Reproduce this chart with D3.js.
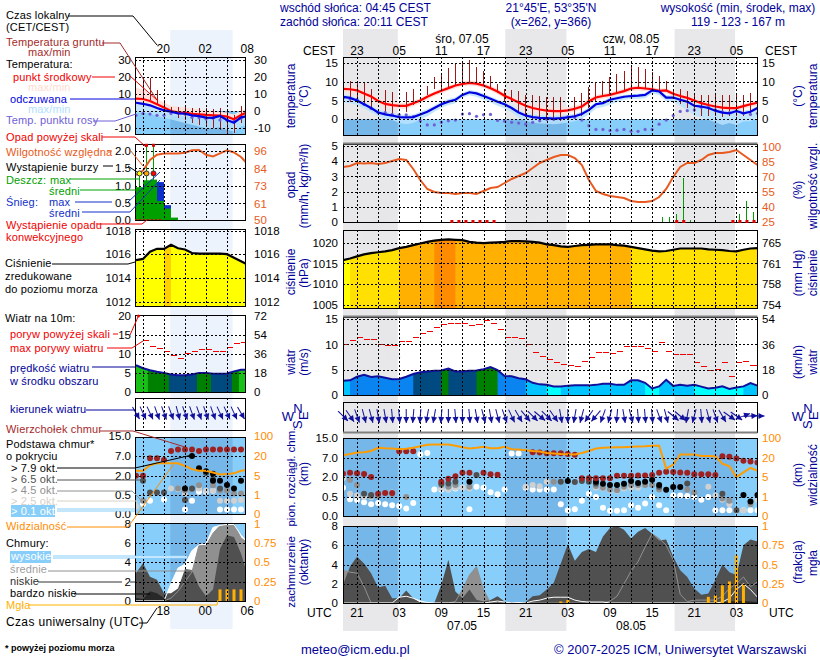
<!DOCTYPE html>
<html>
<head>
<meta charset="utf-8">
<script src="https://cdn.jsdelivr.net/npm/d3@7"></script>
<style>
  html, body { margin: 0; padding: 0; background: #fff; }
  svg { display: block; }
  text { font-family: "Liberation Sans", Arial, sans-serif; font-size: 12px; }
</style>
</head>
<body>
<svg></svg>
<script>
// hours are counted from 06.05 00 UTC
const mainHours = d3.range(19, 79);
const leftHours = d3.range(14, 31);

const mainTemp = [
  8.1,8.0,7.7,6.9,6.1,4.9,4.1,3.8,3.6,3.6,
  4.3,5.0,6.0,6.9,7.6,8.3,9.0,9.4,9.7,9.5,
  9.0,8.3,7.4,6.3,5.4,4.5,3.6,3.0,2.6,2.3,
  2.2,2.2,2.4,2.8,3.4,4.8,5.8,6.2,6.5,7.0,
  7.5,8.2,8.4,8.2,8.0,7.6,7.7,6.8,6.2,5.7,
  5.0,4.3,3.8,3.4,3.1,3.0,3.0,3.5,4.0,4.4];
const mainTempHi = [
  9.0,8.9,8.5,7.6,6.8,5.6,4.9,4.6,4.4,4.4,
  5.0,5.7,6.6,7.5,8.2,8.9,9.6,10.1,10.4,10.2,
  9.7,9.0,8.1,7.0,6.1,5.2,4.4,3.8,3.4,3.1,
  3.0,3.0,3.2,3.6,4.2,5.5,6.5,6.9,7.2,7.7,
  8.2,8.8,9.0,8.8,8.6,8.2,8.3,7.4,6.8,6.3,
  5.6,5.0,4.5,4.1,3.8,3.7,3.7,4.1,4.6,5.0];
const mainTempLo = [
  7.2,7.1,6.8,6.0,5.2,4.1,3.3,3.0,2.8,2.8,
  3.5,4.2,5.2,6.2,6.9,7.6,8.3,8.8,9.0,8.8,
  8.3,7.6,6.7,5.6,4.7,3.8,2.8,2.2,1.8,1.5,
  1.4,1.4,1.6,2.0,2.6,4.0,5.0,5.5,5.8,6.3,
  6.8,7.5,7.7,7.5,7.3,6.9,7.0,6.1,5.4,4.9,
  4.2,3.5,3.0,2.6,2.3,2.2,2.2,2.7,3.2,3.6];
const mainFeel = [
  6.0,5.7,5.0,4.0,3.0,1.8,1.3,1.0,0.6,0.5,
  0.6,1.3,2.0,3.0,4.0,4.7,5.2,6.5,7.2,6.9,
  6.2,5.5,4.7,4.0,3.0,1.8,1.0,0.6,0.4,0.3,
  0.2,0.3,0.5,0.8,1.4,2.5,4.0,4.3,5.2,5.6,
  6.0,6.2,6.3,6.5,7.7,7.4,5.8,5.8,5.2,4.7,
  3.6,3.4,3.0,2.3,1.8,1.6,2.2,1.6,2.0,3.0];
const mainFeelHi = [
  6.6,6.3,5.6,4.6,3.7,2.5,2.0,1.7,1.3,1.2,
  1.3,2.0,2.7,3.7,4.7,5.4,5.9,7.0,7.8,7.5,
  6.8,6.1,5.3,4.6,3.6,2.4,1.7,1.3,1.1,1.0,
  0.9,1.0,1.2,1.5,2.1,3.2,4.6,5.0,5.8,6.2,
  6.5,6.7,6.8,7.0,8.1,7.9,6.4,6.4,5.8,5.3,
  4.3,4.1,3.7,3.0,2.5,2.3,2.9,2.3,2.7,3.6];
const mainFeelLo = [
  4.5,4.3,3.8,2.9,1.9,0.8,0.1,-0.2,-1.0,-1.3,
  -1.0,-0.1,0.8,2.0,3.0,3.8,4.3,5.8,6.4,6.0,
  5.2,4.5,3.6,2.9,1.9,0.5,-0.4,-0.9,-1.1,-1.2,
  -1.3,-1.1,-0.9,-0.5,0.2,1.3,2.9,3.3,3.9,4.6,
  5.2,5.4,5.5,5.6,6.9,6.5,4.8,4.8,3.6,2.4,
  1.0,0.5,-0.1,-0.8,-1.5,-1.0,-1.5,-0.6,-0.5,0.5];
const mainDew = [
  5.6,5.4,5.3,4.0,2.9,1.8,1.8,1.3,1.2,1.2,
  0.7,-0.4,-1.5,-1.5,-0.8,-0.4,-0.2,1.4,1.5,0.8,
  1.2,1.3,-0.3,-0.5,-0.8,-1.0,-1.3,-0.8,-0.4,0.0,
  0.0,0.2,0.7,0.5,-0.2,-1.7,-2.7,-2.7,-3.0,-2.9,
  -2.7,-3.2,-3.2,-2.7,-2.7,-1.3,-0.2,1.0,2.1,2.3,
  2.5,3.2,3.2,2.5,2.0,1.8,2.2,1.6,1.3,1.6];
const mainGroundHi = [
  null,10.3,10.3,9.6,8.0,null,7.7,7.2,null,7.2,
  8.0,null,8.8,11.3,12.0,13.8,15.0,15.0,15.7,14.0,
  13.0,11.5,9.5,8.0,7.7,7.5,6.5,6.5,6.3,6.0,
  6.0,6.0,null,6.0,7.0,8.5,10.0,10.3,11.2,12.2,
  12.8,14.2,14.0,13.3,12.5,11.6,10.3,8.0,8.0,7.5,
  6.7,6.5,6.5,6.5,6.5,6.5,6.5,6.5,7.0,null];
const mainGroundLo = [
  null,4.6,5.0,4.0,3.0,null,1.8,1.0,null,2.0,
  3.7,null,6.5,8.0,8.0,8.5,9.0,10.0,10.0,9.5,
  9.0,8.0,7.0,5.0,4.5,2.0,0.5,0.0,-0.3,-0.5,
  -0.5,-0.5,null,0.0,1.0,3.0,5.0,6.0,6.5,7.0,
  7.5,8.0,8.4,8.0,8.0,7.6,7.5,6.0,4.0,3.0,
  2.0,1.0,1.0,1.0,0.5,1.0,1.0,1.0,1.5,null];
const mainHumidity = [
  80,81,84,83.5,84,83,84,86,88,87,
  78,67,58,55,54,54,53,54,54,53,
  56,59,60,64,68,71,74,79,84,87,
  90,92,92,89,82,67,56,53,51,50,
  49,46,45,45,46,50,58,70,80,84,
  84,87,92,94,94,95,97,92,87,82];
const mainRainHours = [64, 65, 66, 67, 68, 75, 76, 77];
const mainRain = [0.3, 0.3, 0.5, 2.9, 0.1, 0.55, 1.4, 0.65];
const mainConvective = [34, 35, 36, 37, 38, 39, 40, 66, 67, 74, 75, 76, 77];
const mainPressure = [
  1015.8,1016.2,1016.7,1017.2,1017.5,1017.7,1017.9,1018.2,1018.7,1019,
  1019.4,1019.8,1020.2,1020.5,1020.7,1020.8,1020.7,1020.6,1020.2,1020,
  1019.9,1020,1020.1,1020.2,1020.4,1020.4,1020.3,1020.2,1020,1019.6,
  1019.4,1019.1,1019,1019.2,1019.4,1019.5,1019.6,1019.6,1019.6,1019.4,
  1019.3,1019,1018.7,1018.4,1018.1,1017.9,1018,1018.3,1018.6,1018.6,
  1018.6,1018.6,1018.4,1018.3,1018.2,1018,1017.9,1018.3,1018.6,1018.7];
const mainWind = [
  2.8,2.9,3.6,4.0,3.55,3.7,3.4,3.1,3.15,3.6,
  4.15,4.5,4.65,4.8,4.85,5.2,4.65,4.65,4.8,4.85,
  5.1,5.5,4.9,3.75,3.7,3.3,3.1,2.4,2.1,2.0,
  1.7,1.7,1.85,1.9,1.9,1.9,2.0,2.2,2.2,2.0,
  2.0,2.9,2.9,2.4,1.3,1.7,3.0,1.8,2.0,1.85,
  2.0,1.65,1.3,1.45,1.7,1.2,1.5,1.7,2.35,1.85];
const mainGust = [
  9.9,10.8,11.4,11.0,11.0,9.9,9.8,9.8,10.5,10.5,
  11.3,12.2,12.6,13.4,14.0,14.2,14.2,14.2,13.8,14.0,
  14.7,14.2,13.0,11.4,11.4,11.1,10.0,8.4,7.6,7.1,
  6.4,6.0,5.8,5.6,6.7,7.4,8.3,8.4,8.2,8.6,
  9.5,9.6,9.6,9.2,8.6,10.4,8.6,7.9,7.9,7.9,
  6.4,5.7,4.9,5.1,6.4,3.7,6.4,6.7,5.9,null];
const mainWindDir = [
  315,325,340,345,345,350,350,355,355,0,
  5,5,10,10,5,0,355,0,355,350,
  345,350,345,340,335,330,320,315,310,315,
  325,350,0,10,15,35,40,20,15,5,
  350,345,355,355,355,340,345,310,310,10,
  15,355,345,340,330,305,305,250,265,270];
const mainVisibility = [
  31,36,42,43,48,61,59,58,55,57,
  61,67,73,74,74,74,69,63,58,61,
  65,59,59,65,55,54,51,48,46,40,
  38,36,35,34,40,48,58,61,62,63,
  63,65,66,67,69,69,11.7,14.8,34,34,
  34,28,28,27,15.6,13.5,5,8.6,12.2,9.9];
const mainCloudLow = [
  1.9,3.8,4.8,4.1,3.1,1.6,1.8,0.5,0.5,1.3,
  0.5,0.05,0,0,1.9,4.5,1.2,0.5,1.4,0.35,
  0.15,0.3,0.7,0.15,0,0,0.1,0.7,0.8,1.4,
  2.1,4.1,6.1,4.4,5.3,5.6,5.3,6.9,7.8,8,
  7.6,6.7,7.4,7.8,7.2,6.5,6.6,4.8,3.4,2.7,
  1.5,0.85,1,2.4,4,3.2,2.9,6,6.6,6.4];
const mainCloudMid = [
  3.4,3.2,3.1,1.7,0,0,0,0,0,0,
  0,0,0,0,0,0,0.15,1.4,2.9,3.8,
  1.4,0,0,0,0,0,0,0,0,0,
  0,0,0,0,0,0,0,0,0.2,0.7,
  2,3.3,4.3,5.8,7.2,6.7,6,4.5,0.9,0.15,
  0.3,0.3,0.3,0.3,0.7,1.5,2,2.7,1.7,2.2];
const mainCloudHigh = [
  0,0,0,0,0,0,0,0,0.6,0.7,
  0.5,0.2,0.05,0,0,0,0,0,0,0,
  0,0.1,0.2,0.1,0,0.05,0,0.2,0.3,0.5,
  0.6,0.6,0.6,0.3,0.15,0.1,0.1,0.1,0,0,
  0,0,0,0,0,0,0,0,0,0,
  0,0,0,0,0.1,0.5,1.4,2,1.4,0.6];
const mainCloudVeryLow = [
  0,0,0,0,0,0,0,0,0,0,
  0,0,0,0,0,0,0,0,0,0,
  0,0,0,0,0,0,0,0,0,0,
  0,0,0,0,0,0,0,0,0,0,
  0,0,0,0,0,0,0,0,0,0,
  0,0,0,0.1,0.1,0.15,0.2,0.2,0.15,0.1];
const mainFogHours = [50, 51, 71, 72, 73, 74, 75, 76];
const mainFog = [0.02, 0.04, 0.08, 0.1, 0.23, 0.28, 0.62, 0.25];

const mainBaseTop = [
  [19,2.85],[20,3.1],[21,3.0],[22,2.8],[23,2],[24,0.75],[25,0.8],[26,0.8],[27,9.7],[28,9.7],[29,9.7],
  [33,1.65],[34,1.87],[35,2.2],[36,3.1],[37,3.1],[39,3.1],[40,2.7],[41,2.6],
  [46,9.3],[47,9.2],[48,8.9],[49,8.9],[50,8.9],[51,8.6],[52,8.3],
  [53,1.9],[54,1.9],[55,1.9],[56,1.9],[57,1.9],[58,2.35],[59,2.35],[60,2.35],[61,2.4],[62,2.4],[63,2.5],
  [64,3.1],[65,3.4],[66,3.3],[67,3.2],[68,3.1],[69,2.7],[70,2.7],[71,2.7],[72,2.5],
  [73,7.7],[74,7.5],[75,6.9],[76,6.3],[77,6.05],[78,5.8]];
const mainBase79 = [
  [37,1.65],[51,1.7],[55,1.65],[56,1.5],[57,1.4],[58,1.4],[59,1.5],[60,1.7],[61,1.55],[62,1.65],[63,1.8],
  [64,1.4],[65,1.05],[66,1.25],[67,1.25],[76,0.65],[77,0.38],[78,0.65]];
const mainBase65 = [
  [22,0.75],[23,0.65],[33,1.5],[34,1.52],[35,1.65],[38,2.5],[50,1.65],[52,1.62],[53,1.7],[54,1.65],[55,1.52],
  [64,1.26],[68,1.52],[73,0.75],[75,0.15]];
const mainBase45 = [
  [20,1.77],[21,1.4],[23,0.57],[24,0.57],[26,0.75],[28,0.5],[33,1.4],[34,1.26],[35,1.4],[37,1.26],
  [49,1.65],[55,1.33],[56,1.2],[57,1.06],[58,1],[59,1.26],[60,1.4],[61,1.4],[62,1.4],[63,1.4],[64,1.06],
  [68,1.06],[69,0.83],[73,0.46],[74,0.4],[77,0.31]];
const mainBase25 = [
  [19,1.9],[20,0.75],[21,0.62],[22,0.5],[23,0.5],[24,0.62],[26,0.83],[28,0.5],[33,1.14],[34,1.06],[35,1.2],[36,1.2],[37,1.14],
  [45,1.26],[46,1.4],[47,1.3],[48,1.65],[55,1.2],[56,1.14],[57,1],[58,0.95],[59,1.14],[60,1.2],[61,1.2],[71,1.26],[72,0.62],[73,0.43],
  [74,0.31],[75,0.15],[76,0.15],[78,0.42]];
const mainBase01 = [
  [19,1.2],[20,0.44],[21,0.42],[22,0.36],[23,0.31],[24,0.34],[25,0.31],[26,0.28],[27,0.26],[28,0.2],[29,0.34],
  [30,8.5],[31,9],[32,1.06],[33,1.06],[34,1.06],[35,1.14],[36,1.2],[37,0.18],[38,1.26],[39,1.19],[40,0.86],[41,0.7],[42,1.06],
  [43,8.8],[44,8.8],[45,1.19],[46,1.06],[47,1.06],[48,1.06],[49,1.06],[50,0.31],[51,0.15],[52,0.18],[53,0.4],[54,0.75],[55,0.5],
  [56,0.22],[57,0.14],[58,0.14],[59,0.15],[60,0.28],[61,0.22],[62,0.33],[63,0.5],[64,0.28],[65,0.15],[66,0.62],[67,0.62],[68,0.57],
  [69,0.5],[70,0.43],[71,0.5],[72,0.15],[73,0.15],[74,0.15],[75,0.15],[76,0.15],[77,0.15],[78,0.15]];

const leftTemp = [7.2,7.0,5.8,4.0,2.1,0.0,-0.8,-1.0,-1.7,-2.0,-2.3,-2.5,-2.7,-3.3,-4.8,-2.3,-0.6];
const leftTempHi = [13.5,12.5,9.5,7,5,3,2.5,2,1.5,1,0.5,0,-0.5,-1,-2,0,2];
const leftTempLo = [3,2.5,2,1,-1,-2,-3,-3,-3.5,-4,-4.5,-4.5,-4.5,-5,-7,-4,-2];
const leftFeel = [4.8,4.2,3.3,1.7,0.4,-0.4,-1.4,-1.5,-2.5,-3.0,-3.9,-4.0,-2.9,-5.2,-6.8,-3.7,-2.9];
const leftFeelHi = [5.5,5,4,2.4,1,0.3,-0.7,-0.8,-1.8,-2.3,-3.2,-3.3,-2.2,-4.5,-6,-3,-2.2];
const leftFeelLo = [-1,-1,-1.5,-3,-4,-5,-6,-7,-8,-9,-10,-10,-9.5,-11,-12,-9,-8];
const leftDew = [-2.5,-1.4,-1.8,-2.5,-2.5,-1.4,-1,-1.8,-3.7,-3.9,-4.6,-4.2,-5.2,-5.6,-5.2,-4.2,null];
const leftGroundHi = [null,19.5,19,12.2,6.4,2.5,2.1,2.1,1.5,1.5,1.5,1.2,1.5,0.6,-2.3,2.9,null];
const leftGroundLo = [null,6.4,6.4,3.5,-0.4,-2.3,-4.3,-5.2,-7.2,-8.1,-9.1,-10,-11,-13,-13,-7.2,null];
const leftHumidity = [80,83,90,93.5,94.4,94.4,94.4,94.8,96.5,96.7,93.5,92.4,94.4,96.4,95,92,87];
const leftRainHours = [14, 15, 16, 17, 18, 19];
const leftRain = [0.95, 1.15, 1.17, 0.55, 0.33, 0.07];
const leftSnow = [0, 0, 0, 1.1, 0.43, 0];
const leftRainMax = [1.35, 2.18, 2.18];
const leftStormColors = ["#ffff00", "#ffa500", "#ff0000"];
const leftPressure = [1015.5,1015.6,1016.2,1016.45,1016.45,1016.8,1016.5,1016.4,1016.1,1016.05,1016.05,1016.05,1016.05,1016,1015.7,1015.4,1015.1];
const leftWind = [7,6.2,5.7,5.3,5,4.6,4.4,4.4,4.6,5,5,4.8,4.8,4.85,5.4,5.8,5.8];
const leftGust = [null,13.5,11.8,11.5,10.6,9.6,8.8,10,10.6,11,11,10.6,10.6,11.7,12.7,13,null];
const leftWindDir = [330,335,335,340,340,340,345,340,340,340,340,340,335,335,335,330,330];
const leftVisibility = [8.8,8.8,13,14.4,14.4,14.4,14.4,12.4,10,8.8,8.8,7.5,6,6.2,6.8,8.8,9.3];
const leftCloudLow = [2.9,3.9,2.5,2.2,0.8,0.8,1.3,3.3,3.2,1.5,0.5,1.2,5.4,6.8,6.6,4.9,2.5];
const leftCloudMid = [0,0,0,0,0,0.3,1,2,3,5.8,5.7,7,7.8,7.9,8,6.5,6];
const leftCloudHigh = [0,0,0,0,0,1.8,3.4,3.8,5.2,5.8,5.9,7.6,7.8,7.9,7.9,6.8,6];
const leftCloudVeryLow = [0.3,0.2,1,0.8,0.3,0,0,0,0,0,0,0,0,0,0,0,0];
const leftFogHours = [26, 27, 28, 29];
const leftFog = [0.15, 0.15, 0.15, 0.15];

const leftBaseTop = [[14,2],[15,2],[16,6.4],[17,6.4],[18,6],[19,9],[20,9.6],[21,9.6],[22,9.6],[23,9],[24,9.6],[25,9.6],[26,9.6],[27,9.6],[28,9.6],[29,9.6],[30,9.6]];
const leftBase79 = [[21,1],[22,7],[23,3.9],[24,3.1],[25,2.5],[25,1.6],[26,1.6],[27,1.27],[28,1],[29,1.6]];
const leftBase65 = [[15,1.6],[16,0.7],[17,0.7],[18,0.7],[22,1],[21,0.37],[24,2.7],[25,1.7],[26,1]];
const leftBase45 = [[15,0.35],[20,1],[21,0.85],[22,0.95],[23,1.25],[25,1.25],[26,0.85],[27,0.85],[28,0.62],[29,0.62],[30,1.6]];
const leftBase25 = [[14,0.2],[19,1],[20,0.95],[21,0.62],[23,1],[24,0.83],[25,0.83],[26,0.35],[27,0.35],[28,0.35],[29,0.37]];
const leftBase01 = [[15,0.26],[16,0.35],[18,0.38],[21,0.12],[22,0.35],[23,0.75],[24,0.75],[25,0.83],[26,0.12],[27,0.12],[28,0.12],[29,0.12]];

const mainNight = [[19, 26.8], [42.1, 50.8], [66.2, 74.8]];
const leftNight = [[18.9, 27.8]];

const cestHours = [21, 27, 33, 39, 45, 51, 57, 63, 69, 75];
const cestLabels = ["23", "05", "11", "17", "23", "05", "11", "17", "23", "05"];
const utcLabels = ["21", "03", "09", "15", "21", "03", "09", "15", "21", "03"];

const width = 820;
const height = 660;
const navy = "#000099";
const orange = "#ff8c00";
const rhColor = "#e85a20";
const sky = "#87cefa";
const dewColor = "#7060d8";

const svg = d3.select("svg").attr("width", width).attr("height", height);

const mainView = {
  x: d3.scaleLinear().domain([19, 78]).range([343, 757.5]),
  left: 343, right: 757.5, hours: mainHours,
  night: mainNight, nightTop: 29, nightBottom: 631, nightFill: "#e6e6e8",
  grid: d3.range(21, 78, 3), tickLeft: 338, tickRight: 762
};
const leftView = {
  x: d3.scaleLinear().domain([15, 27]).range([143, 227]),
  left: 135, right: 245, hours: leftHours,
  night: leftNight, nightTop: 30, nightBottom: 629, nightFill: "#eaf2fd",
  grid: d3.range(15, 28, 3), tickLeft: 131, tickRight: 254
};

// faint strokes of the background logo
["M398,206 Q366,216 366,262 L394,360", "M506,140 Q556,166 526,228"].forEach(d => {
  svg.append("path").attr("d", d).attr("fill", "none").attr("stroke", "#efefef").attr("stroke-width", 14);
});

// night bands sit behind everything
[mainView, leftView].forEach(v => {
  svg.append("g").selectAll("rect")
    .data(v.night)
    .join("rect")
    .attr("x", d => v.x(d[0]))
    .attr("width", d => v.x(d[1]) - v.x(d[0]))
    .attr("y", v.nightTop)
    .attr("height", v.nightBottom - v.nightTop)
    .attr("fill", v.nightFill)
    .attr("fill-opacity", 0.92);
});

let clipCount = 0;
function makePanel(view, top, bottom) {
  const id = "clip" + clipCount++;
  svg.append("clipPath").attr("id", id)
    .append("rect")
    .attr("x", view.left).attr("y", top)
    .attr("width", view.right - view.left).attr("height", bottom - top);
  const g = svg.append("g").attr("clip-path", `url(#${id})`);
  return { g, view, top, bottom };
}

function skyFill(p, y0) {
  p.g.append("rect")
    .attr("x", p.view.left).attr("y", y0)
    .attr("width", p.view.right - p.view.left).attr("height", p.bottom - y0)
    .attr("fill", sky);
  p.g.append("g").selectAll("rect")
    .data(p.view.night)
    .join("rect")
    .attr("x", d => p.view.x(d[0]))
    .attr("width", d => p.view.x(d[1]) - p.view.x(d[0]))
    .attr("y", y0).attr("height", p.bottom - y0)
    .attr("fill", "#dfe3ee")
    .style("mix-blend-mode", "multiply");
}

function finishPanel(p, gridY) {
  const grid = svg.append("g")
    .attr("stroke", "#000").attr("stroke-dasharray", "2,2").attr("shape-rendering", "crispEdges");
  grid.selectAll("line.v").data(p.view.grid).join("line").classed("v", true)
    .attr("x1", d => Math.round(p.view.x(d)) + 0.5).attr("x2", d => Math.round(p.view.x(d)) + 0.5)
    .attr("y1", p.top).attr("y2", p.bottom);
  grid.selectAll("line.h").data(gridY).join("line").classed("h", true)
    .attr("x1", p.view.left).attr("x2", p.view.right)
    .attr("y1", d => Math.round(d) + 0.5).attr("y2", d => Math.round(d) + 0.5);
  svg.append("rect")
    .attr("x", p.view.left).attr("y", p.top)
    .attr("width", p.view.right - p.view.left).attr("height", p.bottom - p.top)
    .attr("fill", "none").attr("stroke", "#000").attr("stroke-width", 1).attr("shape-rendering", "crispEdges");
}

function ticks(side, view, scale, values, labels, color) {
  const axis = side === "left" ? d3.axisLeft(scale) : d3.axisRight(scale);
  const g = svg.append("g")
    .attr("transform", `translate(${side === "left" ? view.tickLeft : view.tickRight},0)`)
    .call(axis.tickValues(values).tickSize(0).tickPadding(0).tickFormat((d, i) => labels[i]));
  g.select(".domain").remove();
  g.selectAll("text").attr("fill", color || "#000").style("font-size", "11.5px");
}

const lineOf = (view, y, values) =>
  d3.line()
    .defined(d => d != null)
    .x((d, i) => view.x(view.hours[i]))
    .y(d => y(d))(values);

const bandOf = (view, y, hi, lo) =>
  d3.area()
    .x((d, i) => view.x(view.hours[i]))
    .y0((d, i) => y(lo[i]))
    .y1(d => y(d))(hi);

// temperature
function drawTemp(p, y, s) {
  skyFill(p, y(0));
  p.g.append("path").attr("d", bandOf(p.view, y, s.tempHi, s.tempLo)).attr("fill", "#ffe0da");
  p.g.append("path").attr("d", bandOf(p.view, y, s.feelHi, s.feelLo)).attr("fill", "#b8e2fb").attr("fill-opacity", 0.85);
  p.g.append("g").attr("shape-rendering", "crispEdges").selectAll("line")
    .data(p.view.hours.map((h, i) => [h, s.groundHi[i], s.groundLo[i]]).filter(d => d[1] != null))
    .join("line")
    .attr("x1", d => p.view.x(d[0])).attr("x2", d => p.view.x(d[0]))
    .attr("y1", d => y(d[1])).attr("y2", d => y(d[2]))
    .attr("stroke", "#a01818").attr("stroke-width", 1);
  p.g.append("g").selectAll("circle")
    .data(p.view.hours.map((h, i) => [h, s.dew[i]]).filter(d => d[1] != null))
    .join("circle")
    .attr("cx", d => p.view.x(d[0])).attr("cy", d => y(d[1])).attr("r", 1.6)
    .attr("fill", dewColor);
  p.g.append("path").attr("d", lineOf(p.view, y, s.temp)).attr("fill", "none").attr("stroke", "#ff0000").attr("stroke-width", 2.2);
  p.g.append("path").attr("d", lineOf(p.view, y, s.feel)).attr("fill", "none").attr("stroke", "#0000e0").attr("stroke-width", 2.2);
}

// coloured columns under a curve, start says where a column begins relative to its hour
function columns(p, y, values, colour, start) {
  const id = "clip" + clipCount++;
  const area = d3.area()
    .x((d, i) => p.view.x(p.view.hours[i]))
    .y0(p.bottom).y1(d => y(d))(values);
  svg.append("clipPath").attr("id", id).append("path").attr("d", area);
  p.g.append("g").attr("clip-path", `url(#${id})`)
    .selectAll("rect").data(values).join("rect")
    .attr("x", (d, i) => p.view.x(p.view.hours[i] + start))
    .attr("width", 8).attr("y", p.top).attr("height", p.bottom - p.top)
    .attr("fill", d => colour(d));
}

function drawPressure(p, y, values, colour) {
  columns(p, y, values, colour, -1);
  p.g.append("path").attr("d", lineOf(p.view, y, values)).attr("fill", "none").attr("stroke", "#000").attr("stroke-width", 2.2);
}

// wind speed columns and gust dashes
function drawWind(p, y, speed, gust, colour, start) {
  columns(p, y, speed, colour, start);
  p.g.append("path").attr("d", lineOf(p.view, y, speed)).attr("fill", "none").attr("stroke", "#10109c").attr("stroke-width", 2);
  p.g.append("g").attr("shape-rendering", "crispEdges").selectAll("line")
    .data(p.view.hours.map((h, i) => [h, gust[i]]).filter(d => d[1] != null))
    .join("line")
    .attr("x1", d => p.view.x(d[0])).attr("x2", d => p.view.x(d[0] + 1) - 1)
    .attr("y1", d => y(d[1])).attr("y2", d => y(d[1]))
    .attr("stroke", "#f00000").attr("stroke-width", 1);
}

// wind arrows centred on their hour, tail pointing where the wind comes from
function drawArrows(view, midY, dirs) {
  const g = svg.append("g").attr("stroke", "#10109c").attr("fill", "#10109c");
  dirs.forEach((deg, i) => {
    if (view.x(view.hours[i]) > view.right + 2) return;
    const a = g.append("g")
      .attr("transform", `translate(${view.x(view.hours[i])},${midY}) rotate(${deg})`);
    a.append("line").attr("y1", -7).attr("y2", 7).attr("stroke-width", 1);
    a.append("path").attr("d", "M0,7L-3,1L3,1Z").attr("stroke", "none");
  });
}

// cloud base dots, lowest cover first so the denser ones stay on top
function drawBase(p, y, layers, vis, visY) {
  skyFill(p, p.top);
  layers.forEach(l => {
    p.g.append("g").selectAll("circle").data(l.data).join("circle")
      .attr("cx", d => p.view.x(d[0])).attr("cy", d => y(d[1])).attr("r", 3)
      .attr("fill", l.color);
  });
  p.g.append("path").attr("d", lineOf(p.view, visY, vis)).attr("fill", "none").attr("stroke", "#ff9c00").attr("stroke-width", 2);
}

// cloud cover areas, thin lines for the upper layers drawn over them
function drawClouds(p, y, fogY, s) {
  skyFill(p, p.top);
  const area = v => d3.area()
    .x((d, i) => p.view.x(p.view.hours[i]))
    .y0(p.bottom).y1(d => y(d))(v);
  p.g.append("path").attr("d", area(s.high)).attr("fill", "#fff");
  p.g.append("path").attr("d", area(s.mid)).attr("fill", "#909090");
  p.g.append("path").attr("d", area(s.low)).attr("fill", "#505050");
  p.g.append("path").attr("d", area(s.veryLow)).attr("fill", "#282828");
  p.g.append("path").attr("d", lineOf(p.view, y, s.mid)).attr("fill", "none").attr("stroke", "#909090").attr("stroke-width", 1);
  p.g.append("path").attr("d", lineOf(p.view, y, s.high)).attr("fill", "none").attr("stroke", "#fff").attr("stroke-width", 1);
  p.g.append("g").selectAll("rect").data(s.fog).join("rect")
    .attr("x", (d, i) => p.view.x(s.fogHours[i]) - 1.5).attr("width", 3)
    .attr("y", d => fogY(d)).attr("height", d => p.bottom - fogY(d))
    .attr("fill", "#ffb000");
}

const windColour = d3.scaleThreshold()
  .domain([1.8, 3.05, 4.2, 4.88, 5.75])
  .range(["#00ffff", "#00c4ff", "#0a84f0", "#004a80", "#008000", "#18c018"]);

// ---- temperature
const yTempMain = d3.scaleLinear().domain([0, 15]).range([119.3, 63]);
const yTempLeft = d3.scaleLinear().domain([0, 30]).range([111, 59.5]);
const tempMainPanel = makePanel(mainView, 57, 135);
drawTemp(tempMainPanel, yTempMain, {
  temp: mainTemp, tempHi: mainTempHi, tempLo: mainTempLo, feel: mainFeel, feelHi: mainFeelHi,
  feelLo: mainFeelLo, dew: mainDew, groundHi: mainGroundHi, groundLo: mainGroundLo
});
const tempLeftPanel = makePanel(leftView, 57, 134);
drawTemp(tempLeftPanel, yTempLeft, {
  temp: leftTemp, tempHi: leftTempHi, tempLo: leftTempLo, feel: leftFeel, feelHi: leftFeelHi,
  feelLo: leftFeelLo, dew: leftDew, groundHi: leftGroundHi, groundLo: leftGroundLo
});
finishPanel(tempMainPanel, [15, 10, 5, 0].map(yTempMain));
finishPanel(tempLeftPanel, [30, 20, 10, 0, -10].map(yTempLeft));
ticks("left", mainView, yTempMain, [0, 5, 10, 15], ["0", "5", "10", "15"]);
ticks("right", mainView, yTempMain, [0, 5, 10, 15], ["0", "5", "10", "15"]);
ticks("left", leftView, yTempLeft, [-10, 0, 10, 20, 30], ["-10", "0", "10", "20", "30"]);
ticks("right", leftView, yTempLeft, [-10, 0, 10, 20, 30], ["-10", "0", "10", "20", "30"]);

// ---- precipitation and humidity
const yRainMain = d3.scaleLinear().domain([0, 5]).range([222, 146]);
const yRhMain = d3.scaleLinear().domain([25, 100]).range([222, 147]);
const yRainLeft = d3.scaleLinear().domain([0, 2]).range([220, 151]);
const yRhLeft = d3.scaleLinear().domain([50, 96]).range([220, 151]);

const rainMainPanel = makePanel(mainView, 144, 222);
rainMainPanel.g.append("g").attr("shape-rendering", "crispEdges").selectAll("line").data(mainRain).join("line")
  .attr("x1", (d, i) => mainView.x(mainRainHours[i] + 0.5)).attr("x2", (d, i) => mainView.x(mainRainHours[i] + 0.5))
  .attr("y1", yRainMain(0)).attr("y2", d => yRainMain(d))
  .attr("stroke", "#00a000").attr("stroke-width", 1);
rainMainPanel.g.append("path").attr("d", lineOf(mainView, yRhMain, mainHumidity))
  .attr("fill", "none").attr("stroke", rhColor).attr("stroke-width", 2);
finishPanel(rainMainPanel, [5, 4, 3, 2, 1].map(yRainMain));
svg.append("g").selectAll("rect").data(mainConvective).join("rect")
  .attr("x", d => mainView.x(d + 0.5) - 1.5).attr("y", 220).attr("width", 3).attr("height", 3)
  .attr("fill", "#e00000");
ticks("left", mainView, yRainMain, [0, 1, 2, 3, 4, 5], ["0", "1", "2", "3", "4", "5"]);
ticks("right", mainView, yRhMain, [25, 40, 55, 70, 85, 100], ["25", "40", "55", "70", "85", "100"], rhColor);

const rainLeftPanel = makePanel(leftView, 144, 220);
rainLeftPanel.g.append("g").selectAll("rect").data(leftSnow).join("rect")
  .attr("x", (d, i) => leftView.x(leftRainHours[i])).attr("width", 7)
  .attr("y", d => yRainLeft(d)).attr("height", d => yRainLeft(0) - yRainLeft(d))
  .attr("fill", "#1030c8");
rainLeftPanel.g.append("g").selectAll("rect").data(leftRain).join("rect")
  .attr("x", (d, i) => leftView.x(leftRainHours[i])).attr("width", 7)
  .attr("y", d => yRainLeft(d)).attr("height", d => yRainLeft(0) - yRainLeft(d))
  .attr("fill", "#00a000");
rainLeftPanel.g.append("g").selectAll("line").data(leftRainMax).join("line")
  .attr("x1", (d, i) => leftView.x(14.5 + i)).attr("x2", (d, i) => leftView.x(14.5 + i))
  .attr("y1", yRainLeft(0)).attr("y2", d => yRainLeft(d))
  .attr("stroke", "#00a000").attr("stroke-width", 1);
rainLeftPanel.g.append("path").attr("d", lineOf(leftView, yRhLeft, leftHumidity))
  .attr("fill", "none").attr("stroke", rhColor).attr("stroke-width", 2);
finishPanel(rainLeftPanel, [2, 1.5, 1, 0.5].map(yRainLeft));
svg.append("g").selectAll("circle").data(leftStormColors).join("circle")
  .attr("cx", (d, i) => leftView.x(14.5 + i)).attr("cy", yRainLeft(1.35)).attr("r", 2.5)
  .attr("fill", d => d).attr("stroke", "#303030");
svg.append("g").selectAll("rect").data(leftRainMax.slice(1)).join("rect")
  .attr("x", (d, i) => leftView.x(15.5 + i) - 1.5).attr("y", d => yRainLeft(d) - 1).attr("width", 3).attr("height", 3)
  .attr("fill", "#e00000");
svg.append("line")
  .attr("x1", 135).attr("x2", 163).attr("y1", 219.5).attr("y2", 219.5)
  .attr("stroke", "#e00000").attr("stroke-dasharray", "2,2");
ticks("left", leftView, yRainLeft, [0, 0.5, 1, 1.5, 2], ["0.0", "0.5", "1.0", "1.5", "2.0"]);
ticks("right", leftView, yRhLeft, [50, 61, 73, 84, 96], ["50", "61", "73", "84", "96"], rhColor);

// ---- pressure
const yPresMain = d3.scaleLinear().domain([1005, 1020]).range([305, 242.7]);
const yPresLeft = d3.scaleLinear().domain([1012, 1018]).range([301.5, 230.5]);
const presMainPanel = makePanel(mainView, 230, 308);
drawPressure(presMainPanel, yPresMain, mainPressure,
  d3.scaleThreshold().domain([1016.3, 1018.9, 1020.65]).range(["#ffff00", "#ffe000", "#ffb000", "#ff8c00"]));
const presLeftPanel = makePanel(leftView, 229, 306);
drawPressure(presLeftPanel, yPresLeft, leftPressure,
  d3.scaleThreshold().domain([1016.6]).range(["#ffff00", "#ffd000"]));
finishPanel(presMainPanel, [1020, 1015, 1010, 1005].map(yPresMain));
finishPanel(presLeftPanel, [1018, 1016, 1014, 1012].map(yPresLeft));
ticks("left", mainView, yPresMain, [1005, 1010, 1015, 1020], ["1005", "1010", "1015", "1020"]);
ticks("right", mainView, yPresMain, [1005, 1010, 1015, 1020], ["754", "758", "761", "765"]);
ticks("left", leftView, yPresLeft, [1012, 1014, 1016, 1018], ["1012", "1014", "1016", "1018"]);
ticks("right", leftView, yPresLeft, [1012, 1014, 1016, 1018], ["1012", "1014", "1016", "1018"]);

// ---- wind
const yWindMain = d3.scaleLinear().domain([0, 15]).range([395, 319]);
const yWindLeft = d3.scaleLinear().domain([0, 20]).range([392, 315.5]);
const windMainPanel = makePanel(mainView, 317, 395);
drawWind(windMainPanel, yWindMain, mainWind, mainGust, windColour, -1);
const windLeftPanel = makePanel(leftView, 315, 392);
drawWind(windLeftPanel, yWindLeft, leftWind, leftGust, windColour, -0.3);
finishPanel(windMainPanel, [15, 10, 5].map(yWindMain));
finishPanel(windLeftPanel, [15, 10, 5].map(yWindLeft));
svg.append("circle").attr("cx", 138.5).attr("cy", 316).attr("r", 1.5).attr("fill", "#f00000");
ticks("left", mainView, yWindMain, [0, 5, 10, 15], ["0", "5", "10", "15"]);
ticks("right", mainView, yWindMain, [0, 5, 10, 15], ["0", "18", "36", "54"]);
ticks("left", leftView, yWindLeft, [0, 5, 10, 15, 20], ["0", "5", "10", "15", "20"]);
ticks("right", leftView, yWindLeft, [0, 5, 10, 15, 20], ["0", "18", "36", "54", "72"]);

// ---- wind direction
const dirMainPanel = makePanel(mainView, 402, 432);
const dirLeftPanel = makePanel(leftView, 398, 430);
finishPanel(dirMainPanel, []);
finishPanel(dirLeftPanel, []);
drawArrows(mainView, 416, mainWindDir);
drawArrows(leftView, 413, leftWindDir);

// ---- cloud base and visibility
const baseKm = [0, 0.5, 2, 7, 15];
const baseLabels = ["0.0", "0.5", "2.0", "7.0", "15.0"];
const visKm = [0, 1, 5, 20, 100];
const visLabels = ["0", "1", "5", "20", "100"];
const yBaseMain = d3.scaleLinear().domain(baseKm).range([516, 497, 477, 458, 438]);
const yBaseLeft = d3.scaleLinear().domain(baseKm).range([514, 495, 475.7, 456, 436]);
const yVisMain = d3.scaleLinear().domain(visKm).range([516, 497, 477, 458, 438]);
const yVisLeft = d3.scaleLinear().domain(visKm).range([514, 495, 475.7, 456, 436]);
const baseColors = ["#ffffff", "#d0d0d0", "#909090", "#505050", "#000000", "#a02020"];
const basePanelMain = makePanel(mainView, 438, 516);
drawBase(basePanelMain, yBaseMain,
  [mainBase01, mainBase25, mainBase45, mainBase65, mainBase79, mainBaseTop].map((data, i) => ({ data, color: baseColors[i] })),
  mainVisibility, yVisMain);
const basePanelLeft = makePanel(leftView, 437, 514);
drawBase(basePanelLeft, yBaseLeft,
  [leftBase01, leftBase25, leftBase45, leftBase65, leftBase79, leftBaseTop].map((data, i) => ({ data, color: baseColors[i] })),
  leftVisibility, yVisLeft);
finishPanel(basePanelMain, [7, 2, 0.5].map(yBaseMain));
finishPanel(basePanelLeft, [7, 2, 0.5].map(yBaseLeft));
ticks("left", mainView, yBaseMain, baseKm, baseLabels);
ticks("right", mainView, yVisMain, visKm, visLabels, orange);
ticks("left", leftView, yBaseLeft, baseKm, baseLabels);
ticks("right", leftView, yVisLeft, visKm, visLabels, orange);

// ---- cloud cover and fog
const yCloudMain = d3.scaleLinear().domain([0, 8]).range([603, 526]);
const yCloudLeft = d3.scaleLinear().domain([0, 8]).range([601, 523.5]);
const yFogMain = d3.scaleLinear().domain([0, 1]).range([603, 526]);
const yFogLeft = d3.scaleLinear().domain([0, 1]).range([601, 523.5]);
const cloudMainPanel = makePanel(mainView, 526, 603);
drawClouds(cloudMainPanel, yCloudMain, yFogMain, {
  high: mainCloudHigh, mid: mainCloudMid, low: mainCloudLow, veryLow: mainCloudVeryLow,
  fog: mainFog, fogHours: mainFogHours
});
const cloudLeftPanel = makePanel(leftView, 523, 601);
drawClouds(cloudLeftPanel, yCloudLeft, yFogLeft, {
  high: leftCloudHigh, mid: leftCloudMid, low: leftCloudLow, veryLow: leftCloudVeryLow,
  fog: leftFog, fogHours: leftFogHours
});
finishPanel(cloudMainPanel, [6, 4, 2].map(yCloudMain));
finishPanel(cloudLeftPanel, [6, 4, 2].map(yCloudLeft));
ticks("left", mainView, yCloudMain, [0, 2, 4, 6, 8], ["0", "2", "4", "6", "8"]);
ticks("right", mainView, yFogMain, [0, 0.25, 0.5, 0.75, 1], ["0", "0.25", "0.5", "0.75", "1"], orange);
ticks("left", leftView, yCloudLeft, [0, 2, 4, 6, 8], ["0", "2", "4", "6", "8"]);
ticks("right", leftView, yFogLeft, [0, 0.25, 0.5, 0.75, 1], ["0", "0.25", "0.5", "0.75", "1"], orange);

// grey shading on a few panel edges
[[343, 757.5, 143.5], [343, 757.5, 316.5], [343, 757.5, 432.5]].forEach(d => {
  svg.append("line").attr("x1", d[0]).attr("x2", d[1]).attr("y1", d[2]).attr("y2", d[2])
    .attr("stroke", "#808080").attr("stroke-width", 2);
});

// ---- time labels
const label = (txt, x, y, color, anchor) =>
  svg.append("text").attr("x", x).attr("y", y).attr("fill", color || "#000")
    .attr("text-anchor", anchor || "start").text(txt);

cestHours.forEach((h, i) => {
  label(cestLabels[i], mainView.x(h), 55, "#000", "middle");
  label(utcLabels[i], mainView.x(h), 617, "#000", "middle");
});
label("CEST", 303, 55);
label("CEST", 765, 55);
label("UTC", 307, 617);
label("UTC", 769, 617);
label("śro, 07.05", 462, 43, "#000", "middle");
label("czw, 08.05", 631, 43, "#000", "middle");
label("07.05", 462, 630, "#000", "middle");
label("08.05", 631, 630, "#000", "middle");
[[18, "20", "18"], [24, "02", "00"], [30, "08", "06"]].forEach(d => {
  label(d[1], leftView.x(d[0] - 0.1), 53, "#000", "middle");
  label(d[2], leftView.x(d[0] - 0.1), 615, "#000", "middle");
});

label("wschód słońca: 04:45 CEST", 280, 12, navy);
label("zachód słońca: 20:11 CEST", 280, 26, navy);
label("21°45'E, 53°35'N", 551, 12, navy, "middle");
label("(x=262, y=366)", 551, 26, navy, "middle");
label("wysokość (min, środek, max)", 738, 12, navy, "middle");
label("119 - 123 - 167 m", 738, 26, navy, "middle");
label("meteo@icm.edu.pl", 301, 654, navy).style("font-size", "13px");
label("© 2007-2025 ICM, Uniwersytet Warszawski", 554, 654, navy).style("font-size", "13px").style("letter-spacing", "0.05px");

// ---- rotated axis titles
const axisTitles = [
  ["temperatura", 295, 96], ["(°C)", 308, 96],
  ["opad", 295, 185], ["(mm/h, kg/m²/h)", 308, 186],
  ["ciśnienie", 295, 272], ["(hPa)", 308, 273],
  ["wiatr", 295, 362], ["(m/s)", 308, 362],
  ["pion. rozciągł. chm.", 295, 477], ["(km)", 308, 474],
  ["zachmurzenie", 295, 572], ["(oktanty)", 308, 562],
  ["(°C)", 802, 96], ["temperatura", 817, 96],
  ["(%)", 802, 190], ["wilgotność wzgl.", 817, 186],
  ["(mm Hg)", 802, 273], ["ciśnienie", 817, 273],
  ["(km/h)", 802, 362], ["wiatr", 817, 362],
  ["(km)", 802, 475], ["widzialność", 817, 475],
  ["(frakcja)", 802, 562], ["mgła", 817, 563]
];
svg.append("g").selectAll("text").data(axisTitles).join("text")
  .attr("transform", d => `translate(${d[1]},${d[2]}) rotate(-90)`)
  .attr("text-anchor", "middle").attr("fill", navy)
  .style("font-size", d => d[0].startsWith("pion") || d[0] === "zachmurzenie" ? "11.5px" : null)
  .text(d => d[0]);

// compass letters next to the wind direction panel
[288, 798].forEach(cx => {
  const compass = svg.append("g").attr("fill", navy);
  compass.append("text").attr("x", cx).attr("y", 421).attr("text-anchor", "middle").style("font-size", "13px").text("W");
  compass.append("text").attr("x", cx + 10).attr("y", 413).attr("text-anchor", "middle").style("font-size", "13px").text("N");
  compass.append("text").attr("transform", `translate(${cx + 14},${429}) rotate(-90)`).style("font-size", "13px").text("S");
  compass.append("text").attr("transform", `translate(${cx + 20},${420}) rotate(-90)`).style("font-size", "13px").text("E");
});

// ---- left hand legend
const darkRed = "#a52a2a";
const legendLabels = [
  ["Czas lokalny", 6, 19, "#000"], ["(CET/CEST)", 6, 31, "#000"],
  ["Temperatura gruntu", 6, 46, darkRed], ["max/min", 28, 56, darkRed],
  ["Temperatura:", 6, 68, "#000"], ["punkt środkowy", 13, 81, "#f00000"],
  ["max/min", 28, 91, "#ffdcd0"], ["odczuwana", 10, 103, "#0000e0"],
  ["max/min", 28, 113, "#b0e0ff"], ["Temp. punktu rosy", 6, 124, dewColor],
  ["Opad powyżej skali", 6, 141, "#f00000"], ["Wilgotność względna", 6, 156, rhColor],
  ["Wystąpienie burzy", 6, 171, "#000"], ["Deszcz:", 6, 184, "#00a000"], ["max", 50, 184, "#00a000"],
  ["średni", 49, 195, "#00a000"], ["Śnieg:", 6, 206, "#1030c8"], ["max", 49, 206, "#1030c8"],
  ["średni", 49, 217, "#1030c8"], ["Wystąpienie opadu", 6, 229, "#f00000"], ["konwekcyjnego", 6, 241, "#f00000"],
  ["Ciśnienie", 5, 267, "#000"], ["zredukowane", 5, 280, "#000"], ["do poziomu morza", 5, 293, "#000"],
  ["Wiatr na 10m:", 5, 322, "#000"], ["poryw powyżej skali", 10, 338, "#f00000"], ["max porywy wiatru", 10, 352, "#f00000"],
  ["prędkość wiatru", 10, 372, navy], ["w środku obszaru", 10, 385, navy], ["kierunek wiatru", 10, 413, navy],
  ["Wierzchołek chmur", 6, 433, darkRed], ["Podstawa chmur*", 6, 448, "#000"], ["o pokryciu", 6, 460, "#000"],
  ["> 7.9 okt.", 11, 472, "#000"], ["> 6.5 okt.", 11, 483, "#505050"], ["> 4.5 okt.", 11, 494, "#909090"],
  ["> 2.5 okt.", 11, 505, "#d8d0c8"], ["Widzialność", 6, 530, orange], ["Chmury:", 6, 547, "#000"],
  ["średnie", 10, 573, "#a0a0a0"], ["niskie", 10, 585, "#303030"], ["bardzo niskie", 10, 597, "#000"],
  ["Mgła", 6, 609, "#ffb000"]
];
const skyTags = [["> 0.1 okt.", 11, 515, 11, 505, 44, 12], ["wysokie", 11, 560, 10, 551, 41, 12]];
skyTags.forEach(d => {
  svg.append("rect").attr("x", d[3]).attr("y", d[4]).attr("width", d[5]).attr("height", d[6]).attr("fill", sky);
  label(d[0], d[1], d[2], "#fff").style("font-size", "11px").style("letter-spacing", "0.15px");
});
svg.append("g").selectAll("text").data(legendLabels).join("text")
  .attr("x", d => d[1]).attr("y", d => d[2]).attr("fill", d => d[3])
  .style("font-size", "11px").style("letter-spacing", "0.15px").text(d => d[0]);
label("Czas uniwersalny (UTC)", 6, 626).style("letter-spacing", "0.35px");
label("* powyżej poziomu morza", 5, 651).style("font-size", "9px").style("font-weight", "bold");

const callouts = [
  ["#000", [[68,16],[133,16],[157,45]]], [darkRed, [[102,43],[120,43],[157,100]]],
  ["#f00000", [[92,77],[115,77]]], ["#f00000", [[130,76],[157,100]]], ["#0000e0", [[70,99],[135,99]]],
  [dewColor, [[93,121],[115,121],[136,114]]], ["#f00000", [[102,137],[135,137],[146,147]]],
  [rhColor, [[107,151],[112,151]]], [rhColor, [[130,150],[143,166]]],
  ["#000", [[103,166],[113,166]]], ["#000", [[128,166],[137,172]]],
  ["#00a000", [[70,179],[140,179]]], ["#00a000", [[80,190],[148,190]]],
  ["#1030c8", [[75,202],[112,202]]], ["#1030c8", [[128,202],[160,172]]], ["#1030c8", [[82,212],[130,212],[160,180]]],
  ["#f00000", [[97,224],[142,224],[147,220]]], ["#000", [[52,264],[128,264],[135,262]]],
  ["#f00000", [[113,334],[118,334]]], ["#f00000", [[130,335],[138,317]]], ["#f00000", [[107,348],[132,348],[143,341]]],
  [navy, [[92,367],[135,367]]], [navy, [[86,410],[135,410]]], [darkRed, [[100,431],[133,431],[185,447]]],
  ["#000", [[57,468],[135,468],[192,455]]], ["#505050", [[57,480],[143,480]]],
  ["#909090", [[57,491],[132,491],[143,502]]], ["#d8d0c8", [[57,501],[137,501],[137,505]]],
  [orange, [[67,527],[128,527],[173,465]]], ["#909090", [[48,571],[193,571]]],
  ["#303030", [[38,582],[122,582]]], ["#303030", [[130,582],[135,582]]], ["#000", [[74,594],[150,594]]],
  ["#ffb000", [[28,605],[217,605],[218,600]]], ["#000", [[139,623],[147,623],[157,608]]]
];
svg.append("g").selectAll("path").data(callouts).join("path")
  .attr("d", d => d3.line()(d[1])).attr("fill", "none").attr("stroke", d => d[0]).attr("stroke-width", 1);

// sky blue legend leaders: two lines with white between
[[[57, 510], [135, 510]], [[53, 557], [187, 557]]].forEach(d => {
  svg.append("path").attr("d", d3.line()(d)).attr("stroke", sky).attr("stroke-width", 3).attr("fill", "none");
  svg.append("path").attr("d", d3.line()(d)).attr("stroke", "#fff").attr("stroke-width", 1).attr("fill", "none");
});
</script>
</body>
</html>
